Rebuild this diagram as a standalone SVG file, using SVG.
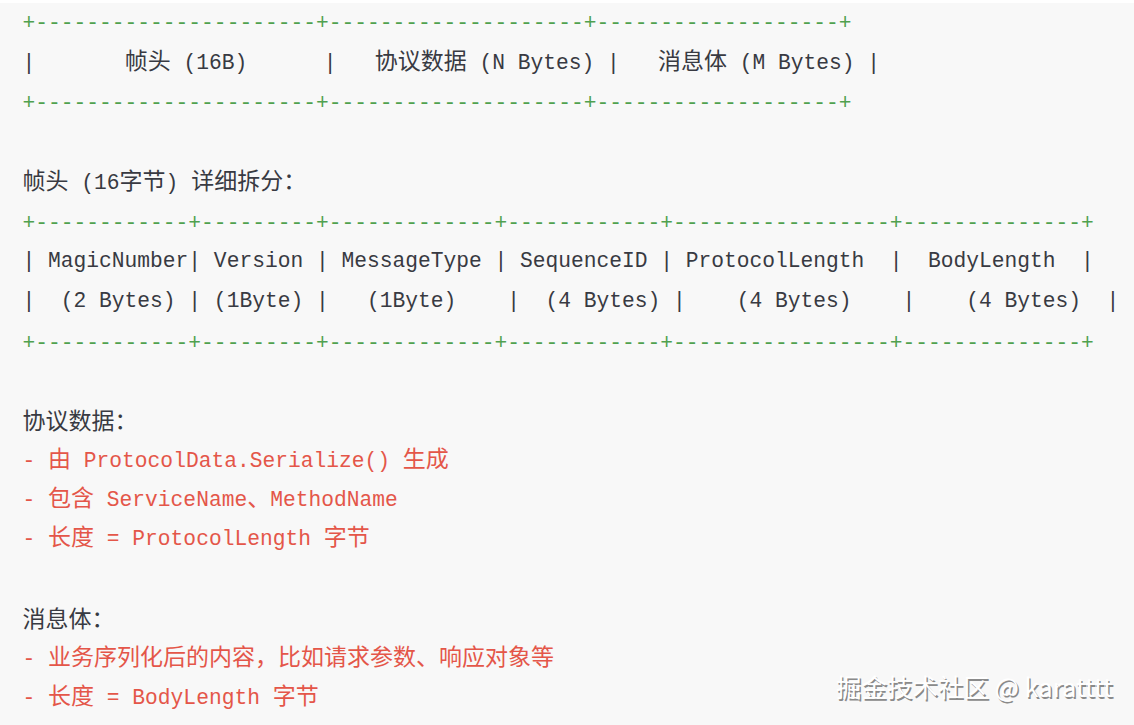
<svg xmlns="http://www.w3.org/2000/svg" width="1134" height="725" viewBox="0 0 1134 725">
<style>
text{font-family:"Liberation Mono","Noto Sans CJK SC",monospace;font-size:21.25px;white-space:pre;fill:#383a42}
.c{font-family:"Noto Sans CJK SC","Liberation Sans",sans-serif;font-size:23px}
.g{fill:#50a14f}
.r{fill:#e45649}
.wm{font-family:"Noto Sans CJK SC","Liberation Sans",sans-serif;font-size:25.5px;white-space:pre}
</style>
<rect x="0" y="0" width="1134" height="725" fill="#ffffff"/>
<rect x="0" y="3" width="1134" height="722" fill="#f8f8f8"/>
<g id="frame-table">
<text class="g" x="22.6" y="29" xml:space="preserve">+----------------------+--------------------+-------------------+</text>
<text x="22.6" y="69" xml:space="preserve">|       <tspan class="c">帧头</tspan> (16B)      |   <tspan class="c">协议数据</tspan> (N Bytes) |   <tspan class="c">消息体</tspan> (M Bytes) |</text>
<text class="g" x="22.6" y="109" xml:space="preserve">+----------------------+--------------------+-------------------+</text>
</g>
<g id="header-title">
<text x="22.6" y="189" xml:space="preserve"><tspan class="c">帧头</tspan> (16<tspan class="c">字节</tspan>) <tspan class="c">详细拆分：</tspan></text>
</g>
<g id="header-table">
<text class="g" x="22.6" y="229" xml:space="preserve">+------------+---------+-------------+------------+-----------------+--------------+</text>
<text x="22.6" y="267" xml:space="preserve">| MagicNumber| Version | MessageType | SequenceID | ProtocolLength  |  BodyLength  |</text>
<text x="22.6" y="307" xml:space="preserve">|  (2 Bytes) | (1Byte) |   (1Byte)    |  (4 Bytes) |    (4 Bytes)    |    (4 Bytes)  |</text>
<text class="g" x="22.6" y="349" xml:space="preserve">+------------+---------+-------------+------------+-----------------+--------------+</text>
</g>
<g id="protocol-data">
<text x="22.6" y="429" xml:space="preserve"><tspan class="c">协议数据：</tspan></text>
<text class="r" x="22.6" y="467" xml:space="preserve">- <tspan class="c r">由</tspan> ProtocolData.Serialize() <tspan class="c r">生成</tspan></text>
<text class="r" x="22.6" y="506" xml:space="preserve">- <tspan class="c r">包含</tspan> ServiceName<tspan class="c r">、</tspan>MethodName</text>
<text class="r" x="22.6" y="545" xml:space="preserve">- <tspan class="c r">长度</tspan> = ProtocolLength <tspan class="c r">字节</tspan></text>
</g>
<g id="message-body">
<text x="22.6" y="627" xml:space="preserve"><tspan class="c">消息体：</tspan></text>
<text class="r" x="22.6" y="665" xml:space="preserve">- <tspan class="c r">业务序列化后的内容，比如请求参数、响应对象等</tspan></text>
<text class="r" x="22.6" y="704" xml:space="preserve">- <tspan class="c r">长度</tspan> = BodyLength <tspan class="c r">字节</tspan></text>
</g>
<g id="watermark">
<text class="wm" x="837.5" y="698.5" style="fill:#8a8a8a">掘金技术社区 @ karatttt</text>
<text class="wm" x="836" y="697" style="fill:#ffffff">掘金技术社区 @ karatttt</text>
</g>
</svg>
